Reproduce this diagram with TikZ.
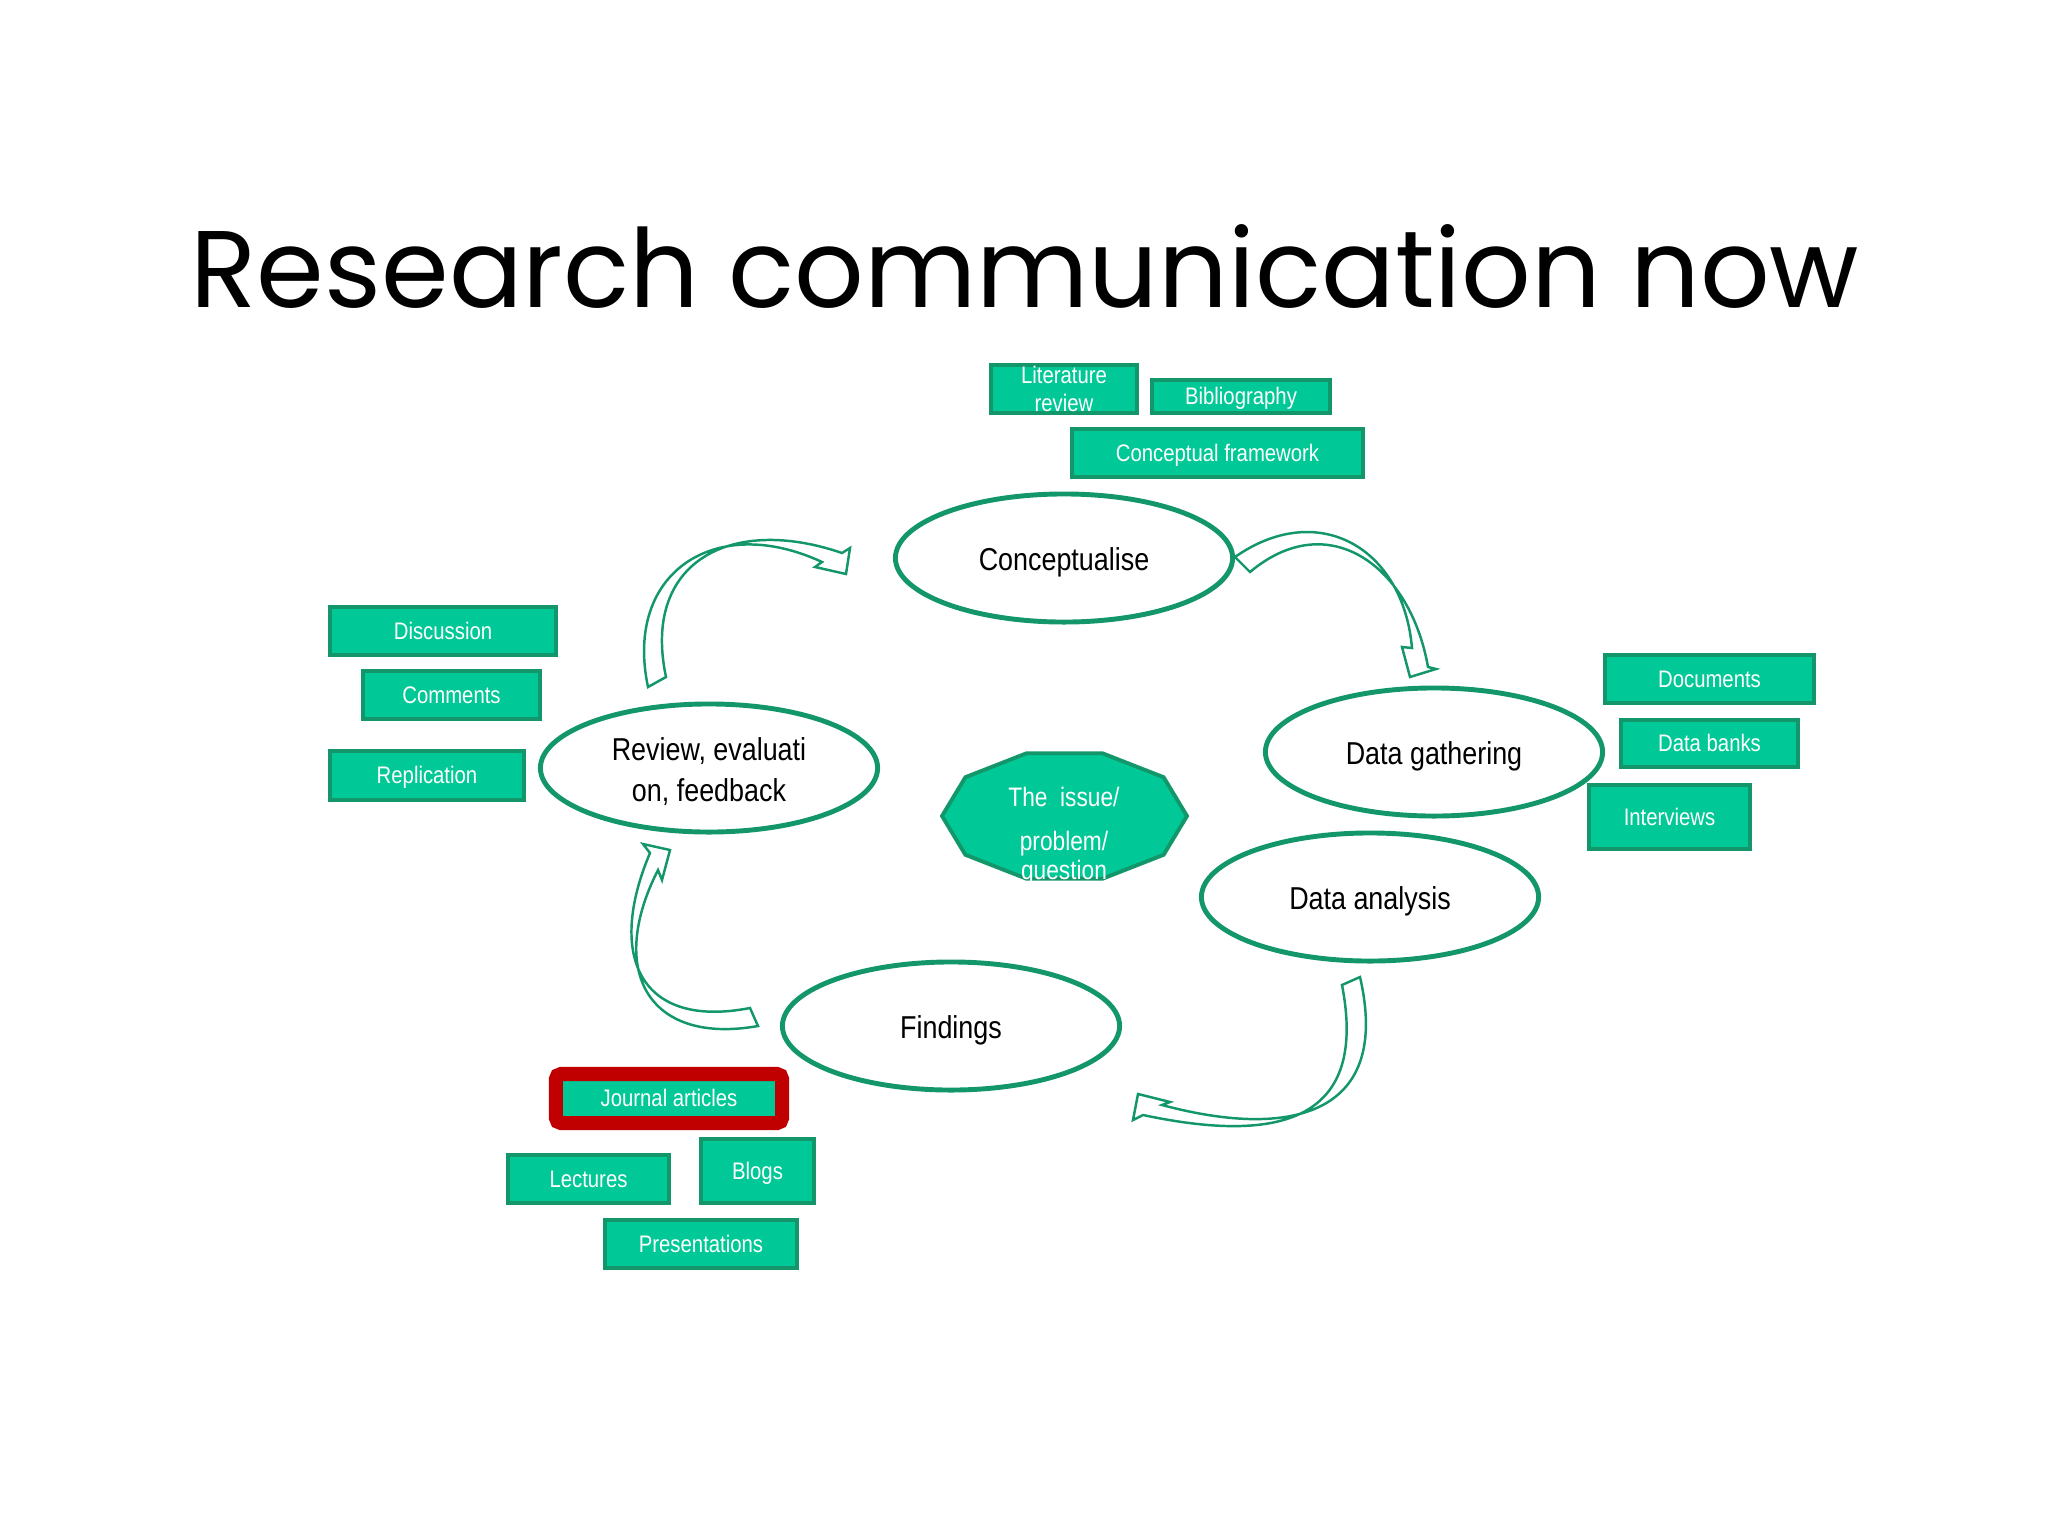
\documentclass[tikz,border=0pt]{standalone}
\usepackage{fontspec}
\newfontfamily\narrowfont{Liberation Sans}[FakeStretch=0.85]
\newfontfamily\titlefont{Poppins}
\usepackage{tikz}
\usetikzlibrary{shapes.geometric}
\usetikzlibrary{positioning}
\definecolor{tagfill}{RGB}{0,200,150}
\definecolor{tagline}{RGB}{18,150,106}
\definecolor{jred}{RGB}{192,0,0}

\begin{document}
\begin{tikzpicture}[
	x=0.01cm, y=0.01cm,
  tagbase/.style = {draw=tagline,line width=1.1pt,fill=tagfill,text=white,inner sep=0pt,font=\narrowfont\fontsize{6.8}{8.2}\selectfont},
  tag/.style = {tagbase,text height=1.5ex,text depth=.4ex},
  stagebase/.style = {ellipse,draw=tagline,line width=1.4pt,minimum width=3.37cm,minimum height=1.28cm,inner sep=0pt,align=center,font=\narrowfont\fontsize{9}{11.5}\selectfont},
  stage/.style = {stagebase,text height=0.75em,text depth=0.05em},
  block arrow/.style = {draw=tagline,line width=0.7pt,line join=miter,looseness=1.3}
  ]
	\useasboundingbox (0,0) rectangle (2048,-1536);

	\node[anchor=base,font=\titlefont\fontsize{31}{38}\selectfont] (title) at (1025,-307) {Research communication now};

	\coordinate (@c) at (1064,-558);
	\coordinate (@g) at (1434,-752);
	\coordinate (@a) at (1370,-897);
	\coordinate (@f) at (951,-1026);
	\coordinate (@r) at (709,-768);

	\node[stage] (concept) at (@c) {Conceptualise};
	\node[stage] (gather) at (@g) {Data gathering};
	\node[stage] (analysis) at (@a) {Data analysis};
	\node[stage] (findings) at (@f) {Findings};
	\node[stagebase] (review) at (@r) {\rule{0pt}{0.95em}Review, evaluati\\on, feedback};

	% the issue in the middle
	\begin{scope}[shift={(1064.5,-816)}]
	\draw[fill=tagfill,draw=tagline,line width=1.1pt] (0:122.5 and 66) \foreach \a in {36,72,...,324} { -- (\a:122.5 and 66)} -- cycle;
	\end{scope}
	\node[text=white,align=center,font=\narrowfont\fontsize{7.6}{9}\selectfont] (issue) at (1064,-836) {The\ \ issue/\\[0.13cm]problem/\\[-0.03cm]question};

	% tags round the cycle
	\node[tagbase,align=center,minimum width=1.46cm,minimum height=0.48cm] (lit) at (1064,-389) {Literature\\review};
	\node[tag,minimum width=1.78cm,minimum height=0.33cm] (biblio) at (1241,-396.5) {Bibliography};
	\node[tag,minimum width=2.91cm,minimum height=0.48cm] (frame) at (1217.5,-453) {Conceptual framework};

	\node[tag,minimum width=2.09cm,minimum height=0.48cm] (docs) at (1709.5,-679) {Documents};
	\node[tag,minimum width=1.77cm,minimum height=0.47cm] (banks) at (1709.5,-743.5) {Data banks};
	\node[tag,minimum width=1.61cm,minimum height=0.64cm] (interviews) at (1669.5,-817) {Interviews};

	\node[tag,minimum width=2.26cm,minimum height=0.48cm] (discussion) at (443,-631) {Discussion};
	\node[tag,minimum width=1.77cm,minimum height=0.48cm] (comments) at (451.5,-695) {Comments};
	\node[tag,minimum width=1.94cm,minimum height=0.49cm] (replication) at (427,-775.5) {Replication};

	\node[tag,draw=jred,line width=0.14cm,rounded corners=0.05cm,minimum width=2.26cm,minimum height=0.49cm] (journal) at (669,-1098.5) {Journal articles};
	\node[tag,minimum width=1.61cm,minimum height=0.48cm] (lectures) at (588.5,-1179) {Lectures};
	\node[tag,minimum width=1.13cm,minimum height=0.64cm] (blogs) at (757.5,-1171) {Blogs};
	\node[tag,minimum width=1.92cm,minimum height=0.48cm] (talks) at (701,-1244) {Presentations};

	% curved block arrows
	\draw[block arrow,looseness=1.4] (648,-687) to[out=102,in=155] (822,-562) -- (815,-567) -- (846,-574) -- (850,-548) -- (842,-553) to[out=161,in=102] (666,-677) -- cycle;
	\draw[block arrow] (1235,-557) to[out=35,in=95] (1412,-648) -- (1402,-647) -- (1410,-677) -- (1436,-669) -- (1428,-667) to[out=100,in=40] (1250,-572) -- cycle;
	\draw[block arrow,looseness=1.5] (1360,-977) to[out=-77,in=-15] (1162,-1105) -- (1170,-1102) -- (1138,-1094) -- (1133,-1120) -- (1143,-1115) to[out=-12,in=-79] (1342,-985) -- cycle;
	\draw[block arrow,looseness=1.55] (758,-1026) to[out=190,in=243] (658,-870) -- (662,-880) -- (670,-850) -- (643,-844) -- (650,-853) to[out=247,in=191] (750,-1008) -- cycle;

\end{tikzpicture}
\end{document}
